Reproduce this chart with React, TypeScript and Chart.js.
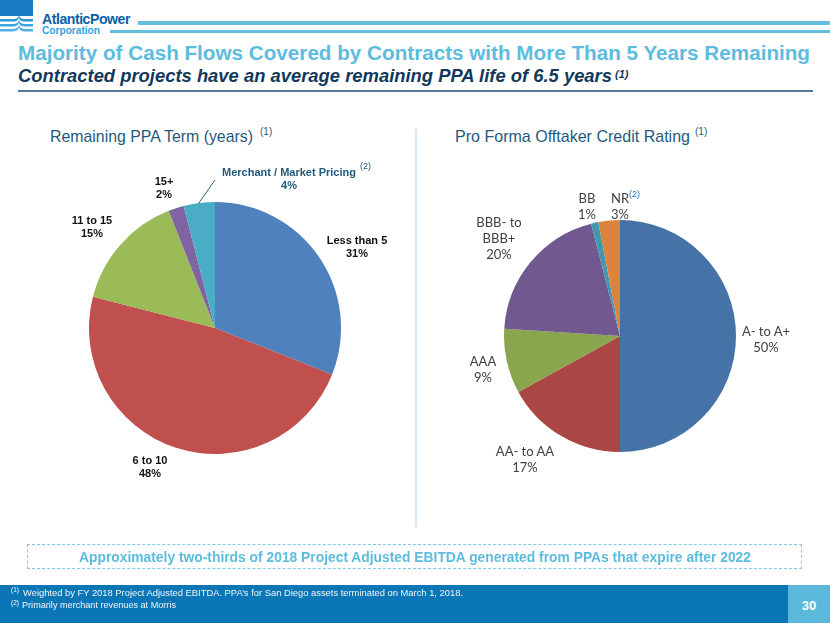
import React, { useEffect, useLayoutEffect, useRef } from "react";
import { Chart, registerables } from "chart.js";

Chart.register(...registerables);

// ---------- data ----------
const termCategories = ["Less than 5", "6 to 10", "11 to 15", "15+", "Merchant / Market Pricing"];
const termValues = [31, 48, 15, 2, 4];
const termColors = ["#4f81bd", "#c0504d", "#9bbb59", "#8064a2", "#4bacc6"];

const ratingCategories = ["A- to A+", "AA- to AA", "AAA", "BBB- to\nBBB+", "BB", "NR"];
const ratingValues = [50, 17, 9, 20, 1, 3];
const ratingColors = ["#4572a7", "#aa4643", "#89a54e", "#71588f", "#4198af", "#db843d"];

const titleText = "Majority of Cash Flows Covered by Contracts with More Than 5 Years Remaining";
const subtitleText = "Contracted projects have an average remaining PPA life of 6.5 years";
const leftHeading = "Remaining PPA Term (years)";
const rightHeading = "Pro Forma Offtaker Credit Rating";
const boxText = "Approximately two-thirds of 2018 Project Adjusted EBITDA generated from PPAs that expire after 2022";
const footnote1 = "Weighted by FY 2018 Project Adjusted EBITDA.  PPA\u2019s for San Diego assets terminated on March 1, 2018.";
const footnote2 = "Primarily merchant revenues at Morris";
const pageNumber = "30";

// ---------- layout (positions only) ----------
const termLabelPos = [
  { cx: 357, top: 234 },
  { cx: 150, top: 454 },
  { cx: 92, top: 214 },
  { cx: 164, top: 175 },
  { cx: 289, top: 166 },
];
const ratingLabelPos = [
  { cx: 766, top: 323 },
  { cx: 525, top: 443 },
  { cx: 483, top: 353 },
  { cx: 499, top: 214 },
  { cx: 587, top: 190 },
  { cx: 620, top: 190 },
];

const SANS = "'Liberation Sans', Arial, sans-serif";

function Fit({ x, y, w, style, children }: any) {
  const ref = useRef<HTMLDivElement>(null);
  useLayoutEffect(() => {
    const el = ref.current;
    if (!el) return;
    const apply = () => {
      el.style.transform = "none";
      const nat = el.getBoundingClientRect().width;
      if (nat > 0) el.style.transform = `scaleX(${w / nat})`;
    };
    apply();
    if ((document as any).fonts && (document as any).fonts.ready) {
      (document as any).fonts.ready.then(apply);
    }
  }, [w]);
  return (
    <div
      ref={ref}
      style={{
        position: "absolute",
        left: x,
        top: y,
        whiteSpace: "nowrap",
        transformOrigin: "0 0",
        ...style,
      }}
    >
      {children}
    </div>
  );
}

function PieChart({ left, top, size, labels, values, colors }: any) {
  const ref = useRef<HTMLCanvasElement>(null);
  useEffect(() => {
    const chart = new Chart(ref.current as HTMLCanvasElement, {
      type: "pie",
      data: {
        labels,
        datasets: [{ data: values, backgroundColor: colors, borderWidth: 0 }],
      },
      options: {
        responsive: false,
        animation: false,
        layout: { padding: 0 },
        plugins: { legend: { display: false }, tooltip: { enabled: false } },
      },
    });
    return () => chart.destroy();
  }, []);
  return (
    <canvas
      ref={ref}
      width={size}
      height={size}
      style={{ position: "absolute", left, top, width: size, height: size }}
    />
  );
}

function Label({ cx, top, text, style }: any) {
  return (
    <div
      style={{
        position: "absolute",
        left: cx - 100,
        width: 200,
        top,
        textAlign: "center",
        whiteSpace: "pre-line",
        ...style,
      }}
    >
      {text}
    </div>
  );
}

export default function App() {
  const termLabelStyle = { fontFamily: SANS, fontWeight: 700, fontSize: 11, lineHeight: "13px", color: "#111" };
  const ratingLabelStyle = { fontFamily: "Lato, 'Open Sans', sans-serif", fontSize: 13, lineHeight: "16px", color: "#404040" };
  return (
    <div
      style={{
        position: "absolute",
        left: 0,
        top: 0,
        width: 830,
        height: 623,
        background: "#fff",
        overflow: "hidden",
        fontFamily: SANS,
      }}
    >
      {/* logo */}
      <svg width={36} height={36} style={{ position: "absolute", left: 0, top: 0 }}>
        <rect x={0} y={0} width={33} height={16} fill="#1a7cc4" />
        <path d="M0 19 H14 Q18 19 19 15 Q20 19 24 19 H33 V21.5 H24 Q19 21.5 19 17 Q18 21.5 14 21.5 H0 Z" fill="#2d9ad8" />
        <path d="M0 24 H13 Q18 24 19 20 Q20 24 25 24 H33 V26.5 H25 Q19 26.5 19 22 Q18 26.5 13 26.5 H0 Z" fill="#3aa6df" />
        <path d="M0 29 H12 Q18 29 19 25 Q20 29 26 29 H33 V31.5 H26 Q19 31.5 19 27 Q18 31.5 12 31.5 H0 Z" fill="#4fb3e4" />
      </svg>
      <Fit x={42} y={11} w={88} style={{ fontFamily: SANS, fontWeight: 700, fontSize: 15, lineHeight: "15px", color: "#0b5fa8", letterSpacing: -0.5 }}>
        AtlanticPower
      </Fit>
      <Fit x={42} y={25} w={58} style={{ fontFamily: SANS, fontWeight: 700, fontSize: 10.5, lineHeight: "10.5px", color: "#2ea6df" }}>
        Corporation
      </Fit>
      <div style={{ position: "absolute", left: 138, top: 21, width: 692, height: 4, background: "#62bfdd" }} />
      <div style={{ position: "absolute", left: 110, top: 30, width: 720, height: 3, background: "#62bfdd" }} />

      {/* title */}
      <Fit x={18} y={43} w={792} style={{ fontFamily: SANS, fontWeight: 700, fontSize: 20, lineHeight: "20px", color: "#5dbcdd" }}>
        {titleText}
      </Fit>
      <Fit x={18} y={66} w={594} style={{ fontFamily: SANS, fontWeight: 700, fontStyle: "italic", fontSize: 19, lineHeight: "19px", color: "#12395b" }}>
        {subtitleText}
      </Fit>
      <div style={{ position: "absolute", left: 615, top: 68, fontFamily: SANS, fontWeight: 700, fontStyle: "italic", fontSize: 11, color: "#12395b" }}>(1)</div>
      <div style={{ position: "absolute", left: 18, top: 90, width: 795, height: 1.5, background: "#557a98" }} />

      {/* section headings */}
      <Fit x={50} y={127.6} w={203} style={{ fontFamily: SANS, fontSize: 17, lineHeight: "17px", color: "#1f5a7d" }}>
        {leftHeading}
      </Fit>
      <div style={{ position: "absolute", left: 260, top: 126, fontFamily: SANS, fontSize: 10, color: "#1f5a7d" }}>(1)</div>
      <Fit x={455} y={127.6} w={235} style={{ fontFamily: SANS, fontSize: 17, lineHeight: "17px", color: "#1f5a7d" }}>
        {rightHeading}
      </Fit>
      <div style={{ position: "absolute", left: 695, top: 126, fontFamily: SANS, fontSize: 10, color: "#1f5a7d" }}>(1)</div>

      {/* divider */}
      <div style={{ position: "absolute", left: 415, top: 129, width: 2, height: 398, background: "#d3e5f6" }} />

      {/* left pie */}
      <PieChart left={89} top={202} size={252} labels={termCategories} values={termValues} colors={termColors} />
      <svg width={830} height={623} style={{ position: "absolute", left: 0, top: 0, pointerEvents: "none" }}>
        <line x1={215} y1={180} x2={198.5} y2={203.5} stroke="#2f5f7d" strokeWidth={1} />
      </svg>
      {termCategories.map((c, i) => (
        <Label
          key={c}
          cx={termLabelPos[i].cx}
          top={termLabelPos[i].top}
          text={`${c}\n${termValues[i]}%`}
          style={i === 4 ? { ...termLabelStyle, color: "#1f5a7d" } : termLabelStyle}
        />
      ))}
      <div style={{ position: "absolute", left: 360, top: 161, fontFamily: SANS, fontSize: 9, color: "#1f5a7d" }}>(2)</div>

      {/* right pie */}
      <PieChart left={504} top={220} size={232} labels={ratingCategories} values={ratingValues} colors={ratingColors} />
      {ratingCategories.map((c, i) => (
        <Label
          key={c}
          cx={ratingLabelPos[i].cx}
          top={ratingLabelPos[i].top}
          text={`${c}\n${ratingValues[i]}%`}
          style={ratingLabelStyle}
        />
      ))}
      <div style={{ position: "absolute", left: 629, top: 189, fontFamily: SANS, fontSize: 9, color: "#2e75b6" }}>(2)</div>

      {/* callout box */}
      <div
        style={{
          position: "absolute",
          left: 27,
          top: 544,
          width: 773,
          height: 23,
          border: "1.5px dashed #7fcbe4",
        }}
      />
      <Fit x={79} y={550} w={672} style={{ fontFamily: SANS, fontWeight: 700, fontSize: 14, lineHeight: "14px", color: "#5dbcdd" }}>
        {boxText}
      </Fit>

      {/* footer */}
      <div style={{ position: "absolute", left: 0, top: 585, width: 788, height: 38, background: "#0a76b6" }} />
      <div style={{ position: "absolute", left: 788, top: 585, width: 42, height: 38, background: "#5ab8da" }} />
      <div style={{ position: "absolute", left: 788, top: 599, width: 42, textAlign: "center", fontFamily: SANS, fontWeight: 700, fontSize: 13, lineHeight: "14px", color: "#fff" }}>
        {pageNumber}
      </div>
      <div style={{ position: "absolute", left: 11, top: 586, fontFamily: SANS, fontSize: 6.5, color: "#fff" }}>(1)</div>
      <Fit x={23} y={587.5} w={440} style={{ fontFamily: SANS, fontSize: 9.5, lineHeight: "10px", color: "#f2f6fa" }}>
        {footnote1}
      </Fit>
      <div style={{ position: "absolute", left: 11, top: 599, fontFamily: SANS, fontSize: 6.5, color: "#fff" }}>(2)</div>
      <Fit x={22} y={599.5} w={154} style={{ fontFamily: SANS, fontSize: 9.5, lineHeight: "10px", color: "#f2f6fa" }}>
        {footnote2}
      </Fit>
    </div>
  );
}
